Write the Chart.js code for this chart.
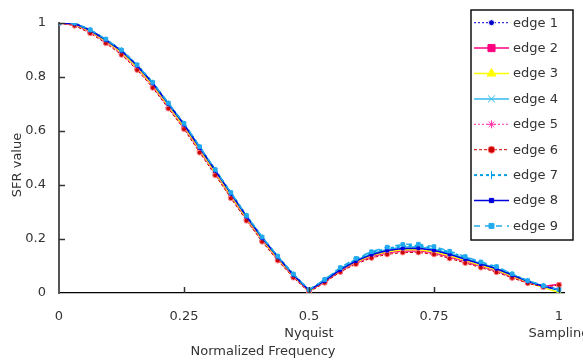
<!DOCTYPE html>
<html><head><meta charset="utf-8">
<script src="https://cdn.jsdelivr.net/npm/chart.js@4/dist/chart.umd.min.js"></script>
<style>html,body{margin:0;padding:0;background:#fff;overflow:hidden}#wrap{width:583px;height:362px;position:relative}</style>
</head><body><div id="wrap"><canvas id="c" width="583" height="362"></canvas></div>
<script>
const freq=[0,0.03125,0.0625,0.09375,0.125,0.15625,0.1875,0.21875,0.25,0.28125,0.3125,0.34375,0.375,0.40625,0.4375,0.46875,0.5,0.53125,0.5625,0.59375,0.625,0.65625,0.6875,0.71875,0.75,0.78125,0.8125,0.84375,0.875,0.90625,0.9375,0.96875,1.0];
const edge1=[1.0,0.997,0.971,0.935,0.894,0.839,0.774,0.697,0.621,0.535,0.45,0.365,0.281,0.201,0.13,0.065,0.008,0.044,0.085,0.117,0.141,0.156,0.163,0.164,0.156,0.141,0.123,0.105,0.088,0.064,0.042,0.024,0.012];
const edge2=[1.0,0.994,0.968,0.931,0.89,0.834,0.768,0.691,0.615,0.529,0.444,0.359,0.275,0.196,0.126,0.062,0.006,0.041,0.082,0.112,0.135,0.149,0.156,0.156,0.149,0.134,0.117,0.099,0.082,0.06,0.039,0.024,0.032];
const edge3=[1.0,0.995,0.969,0.932,0.891,0.835,0.769,0.692,0.616,0.53,0.445,0.36,0.276,0.197,0.127,0.063,0.006,0.043,0.084,0.115,0.139,0.153,0.16,0.16,0.153,0.138,0.12,0.102,0.085,0.062,0.04,0.02,0.002];
const edge4=[1.0,0.998,0.974,0.938,0.898,0.843,0.778,0.701,0.626,0.54,0.455,0.37,0.285,0.205,0.134,0.068,0.01,0.047,0.089,0.121,0.146,0.161,0.17,0.171,0.163,0.147,0.128,0.109,0.092,0.067,0.044,0.025,0.01];
const edge5=[1.0,0.992,0.965,0.928,0.886,0.83,0.764,0.687,0.611,0.525,0.44,0.355,0.272,0.193,0.123,0.06,0.005,0.04,0.08,0.11,0.133,0.147,0.153,0.153,0.146,0.131,0.114,0.097,0.08,0.058,0.038,0.022,0.028];
const edge6=[1.0,0.99,0.962,0.925,0.882,0.826,0.76,0.683,0.607,0.52,0.436,0.351,0.268,0.19,0.12,0.057,0.003,0.038,0.078,0.107,0.13,0.143,0.15,0.15,0.143,0.128,0.111,0.094,0.077,0.056,0.036,0.022,0.03];
const edge7=[1.0,0.999,0.974,0.939,0.899,0.844,0.779,0.702,0.627,0.541,0.456,0.371,0.286,0.206,0.135,0.069,0.011,0.048,0.091,0.124,0.149,0.165,0.174,0.175,0.167,0.151,0.132,0.112,0.095,0.069,0.045,0.026,0.012];
const edge8=[1.0,0.998,0.973,0.937,0.897,0.842,0.777,0.7,0.624,0.538,0.453,0.368,0.283,0.204,0.133,0.067,0.01,0.045,0.086,0.118,0.142,0.157,0.165,0.166,0.158,0.143,0.125,0.107,0.09,0.066,0.043,0.025,0.012];
const edge9=[1.0,1.0,0.975,0.94,0.9,0.845,0.78,0.703,0.628,0.542,0.457,0.372,0.287,0.207,0.136,0.07,0.012,0.05,0.094,0.128,0.153,0.17,0.18,0.181,0.172,0.155,0.135,0.115,0.098,0.071,0.046,0.027,0.012];
const edgeNames=['edge 1','edge 2','edge 3','edge 4','edge 5','edge 6','edge 7','edge 8','edge 9'];
const xTicks=[0,0.25,0.5,0.75,1];
const xTickLabels=['0','0.25',['0.5','Nyquist'],'0.75',['1','Sampling']];
const yTicks=[0,0.2,0.4,0.6,0.8,1];
const xTitle='Normalized Frequency';
const yTitle='SFR value';

const FONT='"DejaVu Sans", sans-serif';
const TXT='#333';
const series=[edge1,edge2,edge3,edge4,edge5,edge6,edge7,edge8,edge9];
const styles=[
 {c:'#0000CC',w:1,dash:[2,2],ps:'circle',r:2,lr:3,fill:'#0000CC',pb:'#ffffff'},
 {c:'#FF0080',w:1.5,dash:[],ps:'rect',r:2.5,lr:5,fill:'#FF0080',pb:'#FF0080'},
 {c:'#FFFF00',w:1.5,dash:[],ps:'triangle',r:2.5,lr:5,fill:'#FFFF00',pb:'#FFFF00'},
 {c:'#33BBEE',w:1.5,dash:[],ps:'crossRot',r:3,lr:5,fill:'#33BBEE',pb:'#33BBEE'},
 {c:'#FF33AA',w:1,dash:[2,2],ps:'star',r:3,lr:4,fill:'#ffffff',pb:'#FF33AA'},
 {c:'#CC0000',w:1,dash:[3,2],ps:'circle',r:2.5,lr:3.5,fill:'#CC0000',pb:'#ff8888'},
 {c:'#00A0E8',w:2,dash:[3,3],ps:'line',r:3,lr:4,fill:'#00A0E8',pb:'#00A0E8',rot:90},
 {c:'#0000DD',w:1.5,dash:[],ps:'rect',r:2,lr:3,fill:'#0000DD',pb:'#0000DD'},
 {c:'#22AAEE',w:1.5,dash:[6,5],ps:'rect',r:2.5,lr:3.5,fill:'#22AAEE',pb:'#22AAEE'}
];
const datasets=series.map((s,i)=>{const st=styles[i];return {
 label:edgeNames[i],data:freq.map((f,k)=>({x:f,y:s[k]})),
 borderColor:st.c,backgroundColor:st.fill,borderWidth:st.w,borderDash:st.dash,
 pointStyle:st.ps,pointRadius:st.r,pointBorderColor:st.pb,pointBackgroundColor:st.fill,pointBorderWidth:1,
 pointRotation:st.rot||0,tension:0,fill:false,order:9-i};});

function marker(ctx,st,x,y,r){
 ctx.save();ctx.setLineDash([]);ctx.fillStyle=st.fill;ctx.strokeStyle=st.pb;ctx.lineWidth=1;
 if(Chart.helpers&&Chart.helpers.drawPoint){Chart.helpers.drawPoint(ctx,{pointStyle:st.ps,radius:r,borderWidth:1,rotation:st.rot||0},x,y);}
 else{ctx.beginPath();ctx.rect(x-r,y-r,2*r,2*r);ctx.fill();ctx.stroke();}
 ctx.restore();
}
const deco={id:'deco',
 afterDatasetsDraw(chart){
  const ctx=chart.ctx,xs=chart.scales.x,ys=chart.scales.y;
  ctx.save();ctx.strokeStyle='#333';ctx.lineWidth=1.5;
  const y0=ys.getPixelForValue(0),x0=xs.getPixelForValue(0);
  yTicks.forEach(v=>{if(v===0)return;const y=Math.round(ys.getPixelForValue(v))+0.5;ctx.beginPath();ctx.moveTo(x0,y);ctx.lineTo(x0+6,y);ctx.stroke();});
  xTicks.forEach(v=>{if(v===0)return;const x=Math.round(xs.getPixelForValue(v))+0.5;ctx.beginPath();ctx.moveTo(x,y0);ctx.lineTo(x,y0-6);ctx.stroke();});
  ctx.restore();
 },
 afterDraw(chart){
  const ctx=chart.ctx;
  ctx.save();
  ctx.fillStyle=TXT;ctx.font='13px '+FONT;ctx.textAlign='center';ctx.textBaseline='middle';
  ctx.fillText(xTitle,263,352);
  ctx.translate(18,165);ctx.rotate(-Math.PI/2);ctx.fillText(yTitle,0,0);
  ctx.restore();
  // legend
  const L={l:471,t:10,r:573,b:240,x0:474,x1:509,tx:513,y0:22.7,dy:25.4};
  ctx.save();
  ctx.fillStyle='#fff';ctx.fillRect(L.l,L.t,L.r-L.l,L.b-L.t);
  ctx.strokeStyle='#111';ctx.lineWidth=1.5;ctx.strokeRect(L.l,L.t,L.r-L.l,L.b-L.t);
  chart.data.datasets.forEach((ds,i)=>{
   const st=styles[i],y=L.y0+i*L.dy;
   ctx.save();ctx.strokeStyle=st.c;ctx.lineWidth=st.w;ctx.setLineDash(st.dash);
   ctx.beginPath();ctx.moveTo(L.x0,y);ctx.lineTo(L.x1,y);ctx.stroke();ctx.restore();
   marker(ctx,st,(L.x0+L.x1)/2,y,st.lr);
   ctx.fillStyle=TXT;ctx.font='13px '+FONT;ctx.textAlign='left';ctx.textBaseline='middle';
   ctx.fillText(ds.label,L.tx,y+0.5);
  });
  ctx.restore();
 }
};

new Chart(document.getElementById('c'),{
 type:'line',
 data:{datasets},
 options:{
  responsive:false,animation:false,devicePixelRatio:1,
  layout:{padding:{top:23,right:19,left:0,bottom:0}},
  plugins:{legend:{display:false},tooltip:{enabled:false}},
  scales:{
   x:{type:'linear',min:0,max:1.01,
    afterBuildTicks:s=>{s.ticks=xTicks.map(v=>({value:v}));},
    afterFit:s=>{s.height=69;s.paddingLeft=0;s.paddingRight=0;},
    grid:{display:false,drawTicks:false},
    border:{display:true,color:'#000',width:1.2},
    ticks:{padding:15,color:TXT,font:{family:FONT,size:13,lineHeight:1.3},maxRotation:0,autoSkip:false,
     callback:(v,i)=>xTickLabels[i]}},
   y:{type:'linear',min:0,max:1,
    afterBuildTicks:s=>{s.ticks=yTicks.map(v=>({value:v}));},
    afterFit:s=>{s.width=59;s.paddingTop=0;s.paddingBottom=0;},
    grid:{display:false,drawTicks:false},
    border:{display:true,color:'#555',width:2},
    ticks:{padding:13,color:TXT,font:{family:FONT,size:13},callback:v=>String(v)}}
  }
 },
 plugins:[deco]
});
</script></body></html>
